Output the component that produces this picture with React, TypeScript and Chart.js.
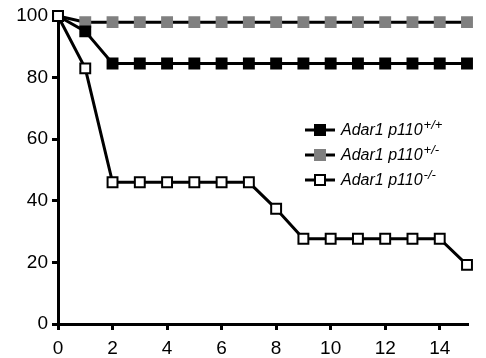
import React, { useEffect, useRef } from "react";
import { Chart, registerables } from "chart.js";

Chart.register(...registerables);

const days = [0, 1, 2, 3, 4, 5, 6, 7, 8, 9, 10, 11, 12, 13, 14, 15];
const wildType = [100, 95, 84.6, 84.6, 84.6, 84.6, 84.6, 84.6, 84.6, 84.6, 84.6, 84.6, 84.6, 84.6, 84.6, 84.6];
const hetero = [100, 98, 98, 98, 98, 98, 98, 98, 98, 98, 98, 98, 98, 98, 98, 98];
const knockout = [100, 83, 46, 46, 46, 46, 46, 46, 37.4, 27.7, 27.7, 27.7, 27.7, 27.7, 27.7, 19.2];
const xTicks = [0, 2, 4, 6, 8, 10, 12, 14];
const seriesNames = ["Adar1 p110", "Adar1 p110", "Adar1 p110"];
const seriesSup = ["+/+", "+/-", "-/-"];
const seriesFill = ["#000000", "#808080", "#ffffff"];
const seriesEdge = ["#000000", "#808080", "#000000"];

const FONT = "'Liberation Sans', Arial, sans-serif";

export default function App() {
  const ref = useRef<HTMLCanvasElement | null>(null);
  useEffect(() => {
    const canvas = ref.current;
    if (!canvas) return;
    const legendPlugin = {
      id: "customLegend",
      afterDatasetsDraw(chart: any) {
        const ctx = chart.ctx;
        ctx.save();
        const rows = [130, 155, 180];
        rows.forEach((y, i) => {
          ctx.strokeStyle = "#000";
          ctx.lineWidth = 3;
          ctx.beginPath();
          ctx.moveTo(305, y);
          ctx.lineTo(335, y);
          ctx.stroke();
          ctx.fillStyle = seriesFill[i];
          ctx.strokeStyle = seriesEdge[i];
          ctx.lineWidth = 2;
          ctx.fillRect(315, y - 5, 10, 10);
          ctx.strokeRect(315, y - 5, 10, 10);
          ctx.fillStyle = "#000";
          ctx.font = `italic 16px ${FONT}`;
          ctx.textBaseline = "middle";
          ctx.textAlign = "left";
          ctx.fillText(seriesNames[i], 341, y + 1);
          const w = ctx.measureText(seriesNames[i]).width;
          ctx.font = `italic 13px ${FONT}`;
          ctx.fillText(seriesSup[i], 341 + w + 1, y - 5);
        });
        ctx.restore();
      },
    };
    const mk = (label: string, data: number[], i: number, order: number) => ({
      label,
      data: days.map((d, k) => ({ x: d, y: data[k] })),
      borderColor: "#000",
      borderWidth: 3,
      pointStyle: "rect",
      pointRadius: 7,
      pointBorderWidth: 2,
      pointBackgroundColor: seriesFill[i],
      pointBorderColor: seriesEdge[i],
      tension: 0,
      clip: false as any,
      order,
    });
    const chart = new Chart(canvas, {
      type: "line",
      data: {
        datasets: [
          mk(seriesNames[0] + seriesSup[0], wildType, 0, 1),
          mk(seriesNames[1] + seriesSup[1], hetero, 1, 2),
          mk(seriesNames[2] + seriesSup[2], knockout, 2, 0),
        ],
      },
      options: {
        animation: false,
        responsive: false,
        maintainAspectRatio: false,
        layout: { padding: { top: 16, right: 19, left: 0, bottom: 0 } },
        plugins: { legend: { display: false }, tooltip: { enabled: false } },
        scales: {
          x: {
            type: "linear",
            min: 0,
            max: 15,
            afterBuildTicks: (scale: any) => {
              scale.ticks = xTicks.map((v) => ({ value: v }));
            },
            afterFit: (scale: any) => {
              scale.height = 34;
            },
            border: { display: true, color: "#000", width: 3 },
            grid: { display: true, drawOnChartArea: false, drawTicks: true, tickLength: 6, tickColor: "#000", lineWidth: 3 },
            ticks: { color: "#000", font: { family: FONT, size: 19 }, padding: 7, maxRotation: 0 },
          },
          y: {
            min: 0,
            max: 100,
            ticks: { stepSize: 20, color: "#000", font: { family: FONT, size: 19 }, padding: 4 },
            afterFit: (scale: any) => {
              scale.width = 58;
            },
            border: { display: true, color: "#000", width: 3 },
            grid: { display: true, drawOnChartArea: false, drawTicks: true, tickLength: 6, tickColor: "#000", lineWidth: 3 },
          },
        },
      },
      plugins: [legendPlugin],
    } as any);
    return () => chart.destroy();
  }, []);
  return (
    <div style={{ position: "absolute", left: 0, top: 0, width: 486, height: 358, background: "#fff" }}>
      <canvas ref={ref} width={486} height={358} style={{ width: 486, height: 358 }} />
    </div>
  );
}
